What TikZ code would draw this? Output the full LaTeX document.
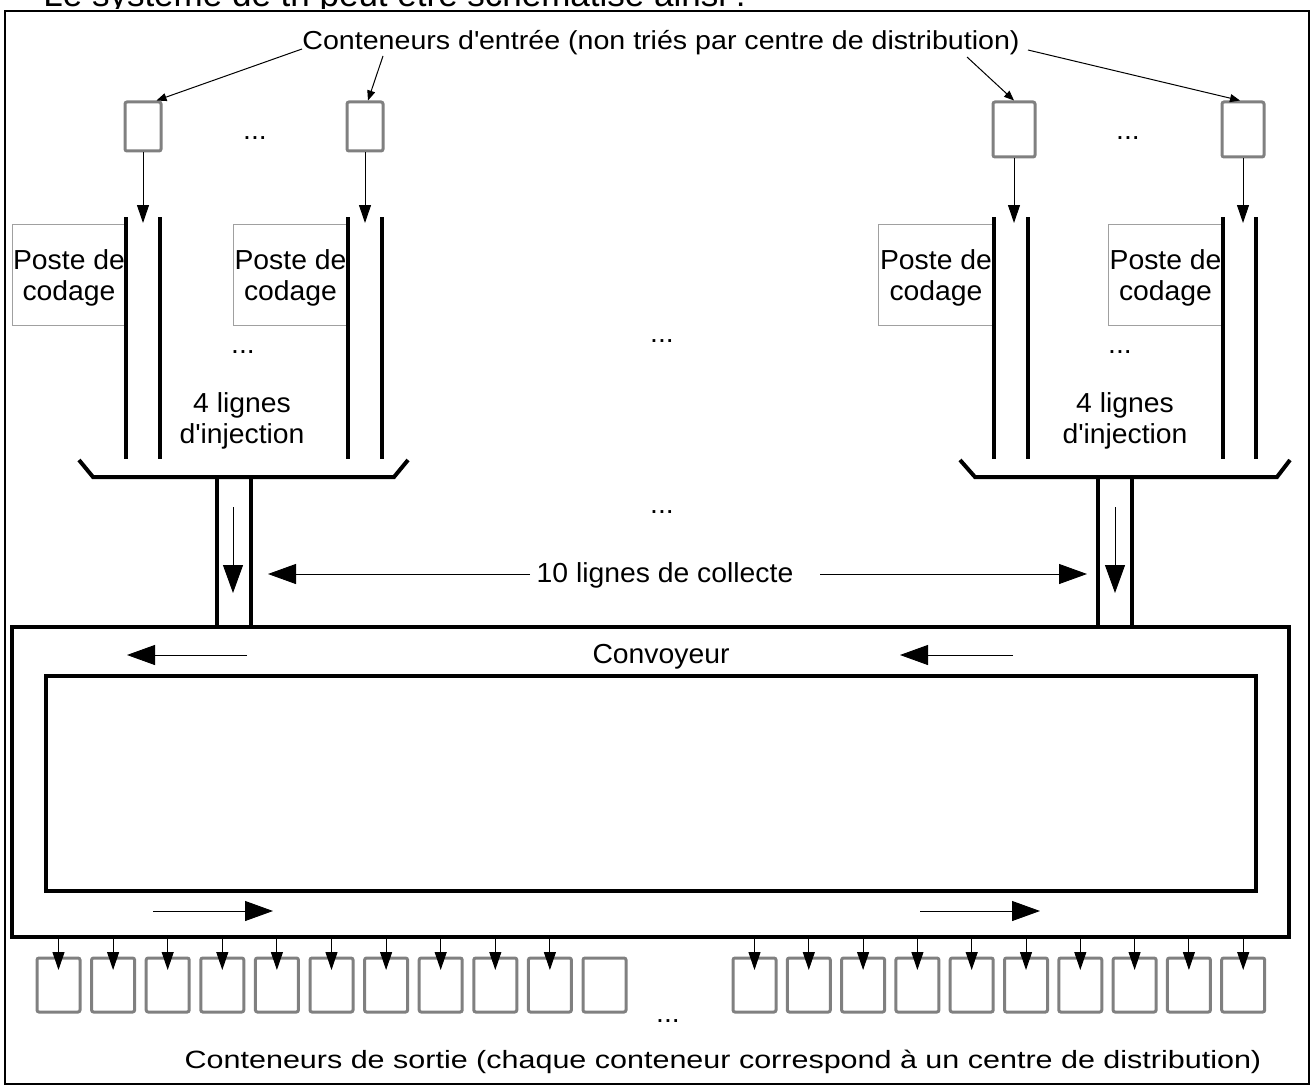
\documentclass[tikz,border=0pt]{standalone}
\usepackage{fontspec}
\setmainfont{Liberation Sans}[FakeStretch=1.03]
\newfontfamily\ftitle{Liberation Sans}[FakeStretch=1.1]
\newfontfamily\fbottom{Liberation Sans}[FakeStretch=1.22]
\newfontfamily\fintro{Liberation Sans}
\usetikzlibrary{arrows.meta}
\definecolor{boxgray}{HTML}{808080}
\definecolor{postegray}{HTML}{A0A0A0}
\begin{document}
\begin{tikzpicture}[x=0.5pt,y=-0.5pt,
  txt/.style={font=\fontsize{13.75}{15.5}\selectfont, inner sep=0pt},
  ttl/.style={font=\ftitle\fontsize{13}{15}\selectfont, inner sep=0pt},
  btm/.style={font=\fbottom\fontsize{12.5}{15}\selectfont, inner sep=0pt},
  inbox/.style={draw=boxgray, line width=1.5pt, rounded corners=1pt, minimum width=18pt, minimum height=24.5pt, inner sep=0pt},
  inboxb/.style={inbox, minimum width=21pt, minimum height=27.5pt},
  outbox/.style={draw=boxgray, line width=1.5pt, rounded corners=1pt, minimum width=21.5pt, minimum height=27pt, inner sep=0pt},
  poste/.style={draw=postegray, line width=0.5pt, minimum height=50.5pt, inner sep=0pt},
  wall/.style={line width=2pt},
  fine/.style={line width=0.5pt},
  smallarr/.style={fine, -{Triangle[length=5pt,width=4pt]}},
  medarr/.style={fine, -{Triangle[length=9pt,width=6pt]}},
  bigarr/.style={fine, -{Triangle[length=14pt,width=10pt]}},
]
\useasboundingbox (0,0) rectangle (1312,1086);
\clip (0,0) rectangle (1312,1086);

% intro line of the page, partly hidden behind the figure
\node[font=\fintro\fontsize{17.5}{20}\selectfont, inner sep=0pt, anchor=base west] (intro) at (43,7) {Le système de tri peut être schématisé ainsi :};
\fill[white] (0,9) rectangle (1312,1086);

% outer frame
\draw[line width=1pt] (5,11) rectangle (1309,1084);

% title and input containers
\node[ttl, anchor=base] (tin) at (661,50) {Conteneurs d\textquotesingle entrée (non triés par centre de distribution)};
\node[inbox] (i1) at (143,126.5) {};
\node[inbox] (i2) at (365,126.5) {};
\node[inboxb] (i3) at (1014,129.5) {};
\node[inboxb] (i4) at (1243,129.5) {};
\node[txt, anchor=base] (d1) at (255,140) {...};
\node[txt, anchor=base] (d2) at (1128,140) {...};

\coordinate (t1) at (302,49);
\coordinate (t2) at (383,56);
\coordinate (t3) at (967,57);
\coordinate (t4) at (1028,50);
\draw[smallarr] (t1) -- ([xshift=-3pt]i1.north east);
\draw[smallarr] (t2) -- ([xshift=1.5pt]i2.north);
\draw[smallarr] (t3) -- (i3.north);
\draw[smallarr] (t4) -- ([xshift=-1.5pt]i4.north);

% coding stations
\node[poste, minimum width=57pt] (pc1) at (69,274.5) {};
\node[poste, minimum width=57.5pt] (pc2) at (290.5,274.5) {};
\node[poste, minimum width=58pt] (pc3) at (936,274.5) {};
\node[poste, minimum width=57.5pt] (pc4) at (1165.5,274.5) {};
\node[txt, align=center] (pt1) at (69,277.7) {Poste de\\codage};
\node[txt, align=center] (pt2) at (290.5,277.7) {Poste de\\codage};
\node[txt, align=center] (pt3) at (936,277.7) {Poste de\\codage};
\node[txt, align=center] (pt4) at (1165.5,277.7) {Poste de\\codage};

% injection lanes
\foreach \x in {126,160,348,382,994,1028,1223,1256}
  \draw[wall] (\x,217) -- (\x,459);
\coordinate (laneTop) at (0,223);
\foreach \b in {i1,i2,i3,i4}
  \draw[medarr] (\b.south) -- (\b.south |- laneTop);

\node[txt, anchor=base] (d3) at (243,353) {...};
\node[txt, anchor=base] (d4) at (1120,353) {...};
\node[txt, anchor=base] (d5) at (662,342) {...};
\node[txt, align=center] (inj1) at (242,420.7) {4 lignes\\d\textquotesingle injection};
\node[txt, align=center] (inj2) at (1125,420.7) {4 lignes\\d\textquotesingle injection};

% funnels
\draw[wall] (79,460) -- (93,477) -- (394,477) -- (408,460);
\draw[wall] (960,460) -- (975,477) -- (1277,477) -- (1290,460);

% collecting lines
\foreach \x in {217,251,1098,1132}
  \draw[wall] (\x,477) -- (\x,627);
\coordinate (ca1) at (233,507);
\coordinate (cb1) at (233,593);
\coordinate (ca2) at (1115,507);
\coordinate (cb2) at (1115,593);
\draw[bigarr] (ca1) -- (cb1);
\draw[bigarr] (ca2) -- (cb2);
\node[txt, anchor=base] (d6) at (662,513) {...};
\node[txt, anchor=base] (coll) at (665,582) {10 lignes de collecte};
\coordinate (cls) at (530,574);
\coordinate (cl) at (268,574);
\coordinate (crs) at (820,574);
\coordinate (cr) at (1087,574);
\draw[bigarr] (cls) -- (cl);
\draw[bigarr] (crs) -- (cr);

% conveyor
\draw[wall] (12,627) rectangle (1289,937);
\draw[wall] (46,676) rectangle (1256,891);
\node[txt, anchor=base] (conv) at (661,663) {Convoyeur};
\coordinate (ka1) at (247,655);  \coordinate (kb1) at (127,655);
\coordinate (ka2) at (1013,655); \coordinate (kb2) at (900,655);
\coordinate (ka3) at (153,911);  \coordinate (kb3) at (273,911);
\coordinate (ka4) at (920,911);  \coordinate (kb4) at (1040,911);
\draw[bigarr] (ka1) -- (kb1);
\draw[bigarr] (ka2) -- (kb2);
\draw[bigarr] (ka3) -- (kb3);
\draw[bigarr] (ka4) -- (kb4);

% output containers
\coordinate (cbot) at (0,937);
\coordinate (otip) at (0,970);
\foreach \i in {0,...,10}
  \node[outbox] (o\i) at ({58.5+54.6*\i},985) {};
\foreach \i in {0,...,9}
  \draw[medarr] (o\i |- cbot) -- (o\i |- otip);
\foreach \i in {0,...,9}
  \node[outbox] (p\i) at ({754.5+54.3*\i},985) {};
\foreach \i in {0,...,9}
  \draw[medarr] (p\i |- cbot) -- (p\i |- otip);
\node[txt, anchor=base] (d7) at (668,1022) {...};
\node[btm, anchor=base] (tout) at (723,1068) {Conteneurs de sortie (chaque conteneur correspond à un centre de distribution)};
\end{tikzpicture}
\end{document}
